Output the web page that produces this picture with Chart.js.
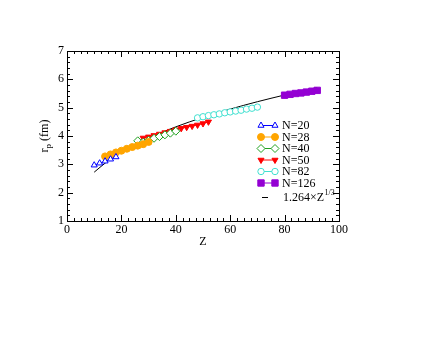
<!DOCTYPE html>
<html>
<head>
<meta charset="utf-8">
<script src="https://cdn.jsdelivr.net/npm/chart.js@4/dist/chart.umd.min.js"></script>
<style>
  html, body { margin: 0; padding: 0; background: #fff; }
  #wrap { width: 440px; height: 340px; }
</style>
</head>
<body>
<div id="wrap"><canvas id="c" width="440" height="340"></canvas></div>
<script>
// ---- data ----
const zN20 = [10, 12, 14, 16, 18];
const rN20 = [2.97, 3.04, 3.11, 3.18, 3.26];

const zN28 = [14, 16, 18, 20, 22, 24, 26, 28, 30];
const rN28 = [3.28, 3.35, 3.42, 3.48, 3.55, 3.61, 3.66, 3.71, 3.79];

const zN40 = [26, 28, 30, 32, 34, 36, 38, 40];
const rN40 = [3.83, 3.78, 3.85, 3.92, 3.98, 4.04, 4.10, 4.17];

const zN50 = [28, 30, 32, 34, 36, 38, 40, 42, 44, 46, 48, 50, 52];
const rN50 = [3.93, 3.97, 4.02, 4.07, 4.12, 4.17, 4.22, 4.27, 4.31, 4.35, 4.39, 4.44, 4.50];

const zN82 = [48, 50, 52, 54, 56, 58, 60, 62, 64, 66, 68, 70];
const rN82 = [4.64, 4.68, 4.72, 4.75, 4.78, 4.82, 4.85, 4.88, 4.91, 4.95, 4.98, 5.02];

const zN126 = [80, 82, 84, 86, 88, 90, 92];
const rN126 = [5.44, 5.47, 5.50, 5.52, 5.55, 5.58, 5.61];

// reference curve 1.264 x Z^(1/3), values typed at sample Z
const zFit = [10, 15, 20, 25, 30, 35, 40, 45, 50, 55, 60, 65, 70, 75, 80, 85, 90, 92];
const rFit = [2.723, 3.117, 3.431, 3.696, 3.928, 4.135, 4.323, 4.497, 4.656, 4.807, 4.949, 5.083, 5.210, 5.331, 5.447, 5.558, 5.665, 5.707];

const seriesLabels = ['N=20', 'N=28', 'N=40', 'N=50', 'N=82', 'N=126'];
const xTicks = [0, 20, 40, 60, 80, 100];
const yTicks = [1, 2, 3, 4, 5, 6, 7];

// ---- helpers ----
const pts = (xs, ys) => xs.map((x, i) => ({ x: x, y: ys[i] }));
const SERIF = "'Liberation Serif', 'DejaVu Serif', serif";

function series(label, xs, ys, color, style, fill, radius, rotation) {
  return {
    label: label,
    data: pts(xs, ys),
    showLine: true,
    borderColor: color,
    borderWidth: 1,
    backgroundColor: fill,
    pointStyle: style,
    pointRadius: radius,
    pointRotation: rotation || 0,
    pointBorderColor: color,
    pointBackgroundColor: fill,
    pointBorderWidth: 1,
    pointHoverRadius: radius,
    tension: 0
  };
}

const datasets = [
  series(seriesLabels[0], zN20, rN20, '#0000ff', 'triangle', '#ffffff', 3.5),
  series(seriesLabels[1], zN28, rN28, '#ffa500', 'circle', '#ffa500', 3.5),
  series(seriesLabels[2], zN40, rN40, '#1fa01f', 'rectRot', '#ffffff', 4),
  series(seriesLabels[3], zN50, rN50, '#ff0000', 'triangle', '#ff0000', 3.5, 180),
  series(seriesLabels[4], zN82, rN82, '#40e0d0', 'circle', '#ffffff', 3.2),
  series(seriesLabels[5], zN126, rN126, '#9400d3', 'rect', '#9400d3', 4.5),
  {
    label: 'fit',
    data: pts(zFit, rFit),
    showLine: true,
    borderColor: '#000000',
    borderWidth: 1,
    pointRadius: 0,
    pointHoverRadius: 0,
    cubicInterpolationMode: 'monotone'
  }
];

// frame, inward ticks on all four sides, axis titles and legend
const decor = {
  id: 'decor',
  afterDraw(chart) {
    const ctx = chart.ctx;
    const a = chart.chartArea;
    const xs = chart.scales.x, ys = chart.scales.y;
    ctx.save();
    ctx.strokeStyle = '#000';
    ctx.lineWidth = 1;
    ctx.strokeRect(Math.round(a.left) + 0.5, Math.round(a.top) + 0.5,
                   Math.round(a.right - a.left), Math.round(a.bottom - a.top));
    ctx.beginPath();
    // x ticks
    for (let v = xs.min; v <= xs.max + 1e-9; v += 2.5) {
      const major = Math.abs(v / 20 - Math.round(v / 20)) < 1e-6;
      const len = major ? 6 : 3;
      const px = Math.round(xs.getPixelForValue(v)) + 0.5;
      ctx.moveTo(px, a.bottom); ctx.lineTo(px, a.bottom - len);
      ctx.moveTo(px, a.top); ctx.lineTo(px, a.top + len);
    }
    // y ticks
    for (let v = ys.min; v <= ys.max + 1e-9; v += 0.2) {
      const major = Math.abs(v - Math.round(v)) < 1e-6;
      const len = major ? 6 : 3;
      const py = Math.round(ys.getPixelForValue(v)) + 0.5;
      ctx.moveTo(a.left, py); ctx.lineTo(a.left + len, py);
      ctx.moveTo(a.right, py); ctx.lineTo(a.right - len, py);
    }
    ctx.stroke();

    // axis titles
    ctx.fillStyle = '#000';
    ctx.font = '12px ' + SERIF;
    ctx.textAlign = 'center';
    ctx.textBaseline = 'alphabetic';
    ctx.fillText('Z', (a.left + a.right) / 2, 245);

    ctx.save();
    ctx.translate(48, (a.top + a.bottom) / 2);
    ctx.rotate(-Math.PI / 2);
    const fMain = '12px ' + SERIF, fSub = '9px ' + SERIF;
    ctx.font = fMain; const w1 = ctx.measureText('r').width;
    ctx.font = fSub; const w2 = ctx.measureText('p').width;
    ctx.font = fMain; const w3 = ctx.measureText(' (fm)').width;
    let sx = -(w1 + w2 + w3) / 2;
    ctx.textAlign = 'left';
    ctx.font = fMain; ctx.fillText('r', sx, 0); sx += w1;
    ctx.font = fSub; ctx.fillText('p', sx, 3); sx += w2;
    ctx.font = fMain; ctx.fillText(' (fm)', sx, 0);
    ctx.restore();

    // legend
    const x1 = 261, x2 = 275, tx = 282;
    let y = 125;
    ctx.textAlign = 'left';
    ctx.textBaseline = 'middle';
    for (let i = 0; i < 6; i++) {
      const ds = chart.data.datasets[i];
      ctx.strokeStyle = ds.borderColor;
      ctx.lineWidth = 1;
      ctx.beginPath();
      ctx.moveTo(x1, y + 0.5); ctx.lineTo(x2, y + 0.5);
      ctx.stroke();
      ctx.fillStyle = ds.pointBackgroundColor;
      ctx.strokeStyle = ds.pointBorderColor;
      const opt = { pointStyle: ds.pointStyle, radius: ds.pointRadius, rotation: ds.pointRotation, borderWidth: 1 };
      Chart.helpers.drawPoint(ctx, opt, x1, y + 0.5);
      Chart.helpers.drawPoint(ctx, opt, x2, y + 0.5);
      ctx.fillStyle = '#000';
      ctx.font = '12px ' + SERIF;
      ctx.fillText(ds.label, tx, y + 1);
      y += 11.5;
    }
    // fit entry
    y = 197;
    ctx.strokeStyle = '#000';
    ctx.beginPath();
    ctx.moveTo(262, y + 0.5); ctx.lineTo(268, y + 0.5);
    ctx.stroke();
    ctx.fillStyle = '#000';
    ctx.font = '12px ' + SERIF;
    ctx.textBaseline = 'alphabetic';
    const base = y + 4;
    const t1 = '1.264\u00d7Z';
    ctx.fillText(t1, tx + 1, base);
    const wt = ctx.measureText(t1).width;
    ctx.font = '8px ' + SERIF;
    ctx.fillText('1/3', tx + 1 + wt + 0.5, base - 6);
    ctx.restore();
  }
};

new Chart(document.getElementById('c'), {
  type: 'scatter',
  data: { datasets: datasets },
  options: {
    responsive: false,
    animation: false,
    events: [],
    layout: { padding: { left: 0, top: 51, right: 101, bottom: 0 } },
    plugins: { legend: { display: false }, tooltip: { enabled: false } },
    scales: {
      x: {
        type: 'linear',
        min: 0, max: 100,
        afterFit(s) { s.height = 119; },
        afterBuildTicks(s) { s.ticks = xTicks.map(v => ({ value: v })); },
        grid: { display: false, drawTicks: false },
        border: { display: false },
        ticks: { color: '#000', font: { family: SERIF, size: 12 }, padding: 2, maxRotation: 0 }
      },
      y: {
        type: 'linear',
        min: 1, max: 7,
        afterFit(s) { s.width = 67; },
        afterBuildTicks(s) { s.ticks = yTicks.map(v => ({ value: v })); },
        grid: { display: false, drawTicks: false },
        border: { display: false },
        ticks: { color: '#000', font: { family: SERIF, size: 12 }, padding: 3 }
      }
    }
  },
  plugins: [decor]
});
</script>
</body>
</html>
